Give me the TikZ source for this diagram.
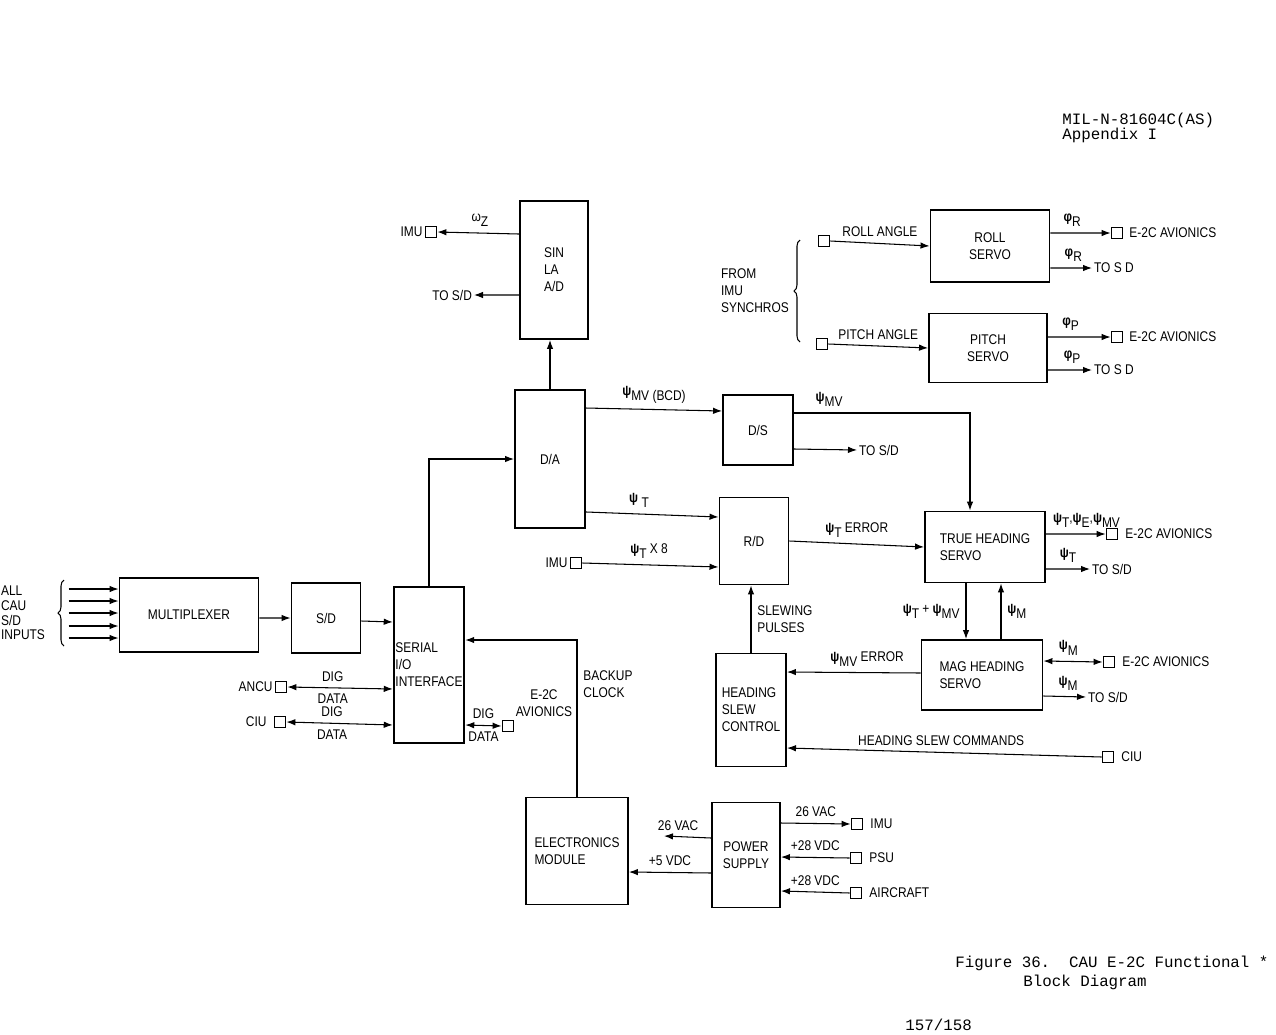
\documentclass[tikz,border=0pt]{standalone}
\usepackage{fontspec}
\setmainfont{Liberation Sans}[FakeStretch=0.85]
\newfontfamily\twfont{Liberation Mono}
\usetikzlibrary{arrows.meta, decorations.pathreplacing}
\newcommand\lowtxt[1]{\raisebox{-0.7ex}{#1}}
\newcommand\psig{\textbf{ψ}}
\newcommand\phig{\textbf{φ}}

\begin{document}
\begin{tikzpicture}[
    x=0.02cm, y=-0.02cm,
    every node/.style={font=\fontsize{8}{9.6}\selectfont},
    blk/.style={draw, line width=1.1pt, align=center, inner sep=2pt},
    port/.style={draw, line width=1pt, minimum size=0.22cm, inner sep=0pt},
    txt/.style={inner sep=1pt, align=left},
    arr/.style={-{Latex[length=1.8mm,width=1.3mm]}, line width=0.6pt},
    biarr/.style={{Latex[length=1.8mm,width=1.3mm]}-{Latex[length=1.8mm,width=1.3mm]}, line width=0.6pt},
    brc/.style={decorate, decoration={brace, amplitude=0.12cm}, line width=0.6pt},
    tw/.style={font=\twfont\fontsize{9}{10}\selectfont, inner sep=0pt, anchor=west},
]
\useasboundingbox (0,0) rectangle (1276,1035);

% header and caption
\node[tw] (hdrA) at (1062,120) {MIL-N-81604C(AS)};
\node[tw] (hdrB) at (1062,135) {Appendix I};
\node[tw] (capA) at (955,963) {Figure 36.\ \ CAU E-2C Functional *};
\node[tw] (capB) at (1023,982) {Block Diagram};
\node[tw] (pageNo) at (905,1025) {157/158};

% blocks
\node[blk, align=left, minimum width=1.36cm, minimum height=2.76cm] (sin) at (554,270) {SIN\\LA\\A/D};
\node[blk, minimum width=1.40cm, minimum height=2.76cm] (dA) at (550,459) {D/A};
\node[blk, minimum width=1.40cm, minimum height=1.40cm] (dS) at (758,430) {D/S};
\node[blk, minimum width=1.38cm, minimum height=1.74cm] (rD) at (754,541) {R/D};
\node[blk, align=left, minimum width=2.40cm, minimum height=1.42cm] (tH) at (985,547) {TRUE HEADING\\SERVO};
\node[blk, align=left, minimum width=2.42cm, minimum height=1.40cm] (mH) at (982,675) {MAG HEADING\\SERVO};
\node[blk, align=left, minimum width=1.40cm, minimum height=2.26cm] (hsc) at (751,710) {HEADING\\SLEW\\CONTROL};
\node[blk, minimum width=2.38cm, minimum height=1.44cm] (roll) at (990,246) {ROLL\\SERVO};
\node[blk, minimum width=2.36cm, minimum height=1.38cm] (pitch) at (988,348) {PITCH\\SERVO};
\node[blk, minimum width=2.78cm, minimum height=1.48cm] (mux) at (189,615) {MULTIPLEXER};
\node[blk, minimum width=1.38cm, minimum height=1.40cm] (sD) at (326,618) {S/D};
\node[blk, align=left, inner sep=1pt, minimum width=1.40cm, minimum height=3.12cm] (sio) at (429,665) {SERIAL\\I/O\\INTERFACE};
\node[blk, align=left, minimum width=2.04cm, minimum height=2.14cm] (elec) at (577,851) {ELECTRONICS\\MODULE};
\node[blk, minimum width=1.36cm, minimum height=2.10cm] (ps) at (746,855) {POWER\\SUPPLY};

% ports
\node[port, label={[txt]left:IMU}] (imuA) at (431,232) {};
\node[port, label={[txt]left:IMU}] (imuB) at (576,563) {};
\node[port] (rollIn) at (824,241) {};
\node[port] (pitchIn) at (822,344) {};
\node[port, label={[txt, label distance=0.08cm]right:E-2C AVIONICS}] (e2cRoll) at (1117,233) {};
\node[port, label={[txt, label distance=0.08cm]right:E-2C AVIONICS}] (e2cPitch) at (1117,337) {};
\node[port, label={[txt, label distance=0.1cm]right:E-2C AVIONICS}] (e2cTrue) at (1112,534) {};
\node[port, label={[txt, label distance=0.1cm]right:E-2C AVIONICS}] (e2cMag) at (1109,662) {};
\node[port, label={[txt, label distance=0.1cm]right:CIU}] (ciuB) at (1108,757) {};
\node[port, label={[txt]left:ANCU}] (ancu) at (281,687) {};
\node[port, label={[txt, label distance=0.1cm]left:CIU}] (ciuA) at (280,722) {};
\node[port] (e2cSio) at (508,726) {};
\node[port, label={[txt, label distance=0.1cm]right:IMU}] (imuC) at (857,824) {};
\node[port, label={[txt, label distance=0.1cm]right:PSU}] (psu) at (856,858) {};
\node[port, label={[txt, label distance=0.1cm]right:AIRCRAFT}] (air) at (856,893) {};

% free texts
\node[txt, anchor=east] (tosdA) at (474,295) {TO S/D};
\node[txt, anchor=west] (tosdB) at (857,450) {TO S/D};
\node[txt, anchor=west] (tosdC) at (1090,569) {TO S/D};
\node[txt, anchor=west] (tosdD) at (1086,697) {TO S/D};
\node[txt, anchor=west] (tosdE) at (1092,268) {TO S D};
\node[txt, anchor=west] (tosdF) at (1092,370) {TO S D};
\node[txt, anchor=west] (synchros) at (719,291) {FROM\\IMU\\SYNCHROS};
\node[txt, anchor=west, font=\fontsize{8}{8.4}\selectfont] (inputs) at (-1,613) {ALL\\CAU\\S/D\\INPUTS};
\node[txt, align=center] (avSio) at (544,703) {E-2C\\AVIONICS};
\coordinate (vacEnd) at (664,836);

% braces
\draw[brc] (800,342) -- (800,240);
\draw[brc] (64,646) -- (64,580);

% multiplexer chain
\foreach \dy in {0.52,0.28,0.04,-0.22,-0.46}
  \draw[arr] ([xshift=-1cm, yshift=\dy cm]mux.west) -- ([yshift=\dy cm]mux.west);
\draw[arr] ([yshift=-0.06cm]mux.east) -- (sD.west);
\draw[arr] ([yshift=-0.06cm]sD.east) -- ([yshift=0.86cm]sio.west);
\draw[biarr] (ancu.east) -- node[above, pos=0.43] {DIG} node[below, pos=0.43] {DATA} ([yshift=-0.48cm]sio.west);
\draw[biarr] (ciuA.east) -- node[above, pos=0.43] {DIG} node[below, pos=0.43] {DATA} ([yshift=-1.2cm]sio.west);
\draw[biarr] ([yshift=-1.2cm]sio.east) -- node[above] {DIG} node[below] {DATA} (e2cSio.west);
\draw[arr] (elec.north) |- node[right, pos=0.36, align=left] {BACKUP\\CLOCK} ([yshift=0.5cm]sio.east);
\draw[arr] (sio.north) |- (dA.west);

% D/A and SIN LA A/D
\draw[arr] (dA.north) -- (dA.north |- sin.south);
\draw[arr] ([yshift=0.72cm]sin.west) -- node[above, pos=0.48] {ω\lowtxt{Z}} (imuA.east);
\draw[arr] ([yshift=-0.5cm]sin.west) -- (tosdA.east);
\draw[arr] ([yshift=1.02cm]dA.east) -- node[above, pos=0.5] {\psig\lowtxt{MV (BCD)}} ([yshift=0.38cm]dS.west);
\draw[arr] ([yshift=-1.06cm]dA.east) -- node[above, pos=0.4] {\psig\ \lowtxt{T}} ([yshift=0.48cm]rD.west);
\draw[arr] (imuB.east) -- node[above, pos=0.49] {\psig\lowtxt{T} X 8} ([yshift=-0.52cm]rD.west);

% heading servos
\draw[arr] ([yshift=0.34cm]dS.east) -| node[above, pos=0.1] {\psig\lowtxt{MV}} ([xshift=-0.3cm]tH.north);
\draw[arr] ([yshift=-0.38cm]dS.east) -- (tosdB.west);
\draw[arr] (rD.east) -- node[above] {\psig\lowtxt{T} ERROR} (tH.west);
\draw[arr] ([yshift=0.26cm]tH.east) -- node[above, pos=0.68] {\psig\lowtxt{T},\psig\lowtxt{E},\psig\lowtxt{MV}} (e2cTrue.west);
\draw[arr] ([yshift=-0.44cm]tH.east) -- node[above, pos=0.5] {\psig\lowtxt{T}} (tosdC.west);
\draw[arr] ([xshift=-0.38cm]tH.south) -- node[left] {\psig\lowtxt{T} + \psig\lowtxt{MV}} ([xshift=-0.38cm]tH.south |- mH.north);
\draw[arr] ([xshift=0.38cm]mH.north) -- node[right] {\psig\lowtxt{M}} ([xshift=0.38cm]mH.north |- tH.south);
\draw[biarr] ([yshift=0.28cm]mH.east) -- node[above, pos=0.42] {\psig\lowtxt{M}} (e2cMag.west);
\draw[arr] ([yshift=-0.42cm]mH.east) -- node[above, pos=0.58] {\psig\lowtxt{M}} (tosdD.west);
\draw[arr] ([yshift=0.04cm]mH.west) -- node[above, pos=0.4] {\psig\lowtxt{MV} ERROR} ([yshift=0.76cm]hsc.east);
\draw[arr] (hsc.north) -- node[right, align=left] {SLEWING\\PULSES} (hsc.north |- rD.south);
\draw[arr] (ciuB.west) -- node[above, pos=0.51] {HEADING SLEW COMMANDS} ([yshift=-0.76cm]hsc.east);

% roll and pitch
\draw[arr] (rollIn.east) -- node[above] {ROLL ANGLE} (roll.west);
\draw[arr] (pitchIn.east) -- node[above] {PITCH ANGLE} (pitch.west);
\draw[arr] ([yshift=0.26cm]roll.east) -- node[above, pos=0.36] {\phig\lowtxt{R}} (e2cRoll.west);
\draw[arr] ([yshift=-0.44cm]roll.east) -- node[above, pos=0.55] {\phig\lowtxt{R}} (tosdE.west);
\draw[arr] ([yshift=0.22cm]pitch.east) -- node[above, pos=0.36] {\phig\lowtxt{P}} (e2cPitch.west);
\draw[arr] ([yshift=-0.44cm]pitch.east) -- node[above, pos=0.55] {\phig\lowtxt{P}} (tosdF.west);

% power
\draw[arr] ([yshift=0.34cm]ps.west) -- node[above, pos=0.7] {26 VAC} (vacEnd);
\draw[arr] ([yshift=-0.36cm]ps.west) -- node[above] {+5 VDC} ([yshift=-0.42cm]elec.east);
\draw[arr] ([yshift=0.64cm]ps.east) -- node[above] {26 VAC} (imuC.west);
\draw[arr] (psu.west) -- node[above] {+28 VDC} ([yshift=-0.04cm]ps.east);
\draw[arr] (air.west) -- node[above] {+28 VDC} ([yshift=-0.72cm]ps.east);

\end{tikzpicture}
\end{document}
